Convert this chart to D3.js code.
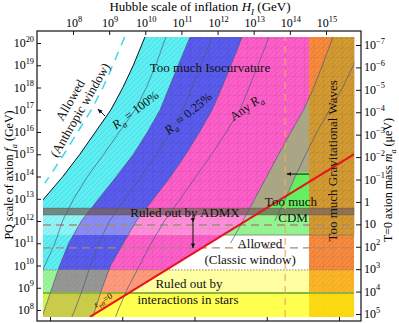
<!DOCTYPE html>
<html>
<head>
<meta charset="utf-8">
<script src="https://cdn.jsdelivr.net/npm/d3@7"></script>
<style>
  body { margin: 0; background: #fff; }
  svg { display: block; font-family: "Liberation Serif", "DejaVu Serif", serif; }
</style>
</head>
<body>
<svg id="chart" width="399" height="323"></svg>
<script>
// all values are log10: [log H_I (GeV), log f_a (GeV)]
const hTicks = [8, 9, 10, 11, 12, 13, 14, 15];
const faTicks = [8, 9, 10, 11, 12, 13, 14, 15, 16, 17, 18, 19, 20];
const maTicks = [-7, -6, -5, -4, -3, -2, -1, 0, 1, 2, 3, 4, 5];
const eTicks = [13, 14, 15, 16, 17]; // bottom axis, no labels

const hMin = 7.17, hMax = 15.78, fMin = 7.69, fMax = 20.27;

// isocurvature boundaries
const anthropicEdge = [[9.99, 20.27], [9.67, 19], [9.38, 18], [9.05, 17], [8.62, 16], [8.19, 15], [7.72, 14], [7.17, 12.95]];
const anthropicDash = [[9.43, 20.27], [9.10, 19], [8.83, 18], [8.51, 17], [8.13, 16], [7.75, 15], [7.35, 14], [7.22, 13.71]];
const ra100Line = [[10.57, 20.27], [10.29, 19], [10.03, 18], [9.72, 17], [9.28, 16], [8.85, 15], [8.40, 14], [8.02, 13], [7.71, 12], [7.50, 11], [7.22, 10], [7.17, 9.8]];
const blueEdge = [[11.24, 20.27], [10.91, 19], [10.66, 18], [10.41, 17], [10.06, 16], [9.67, 15], [9.20, 14], [8.71, 13], [8.23, 12], [7.88, 11], [7.63, 10], [7.42, 9], [7.21, 8], [7.14, 7.69]];
const ra025Line = [[11.85, 20.27], [11.54, 19], [11.29, 18], [11.04, 17], [10.70, 16], [10.32, 15], [9.88, 14], [9.44, 13], [9.01, 12], [8.71, 11], [8.48, 10], [8.28, 9], [8.05, 8], [7.97, 7.69]];
const pinkEdge = [[12.68, 20.27], [12.37, 19], [12.12, 18], [11.85, 17], [11.50, 16], [11.12, 15], [10.70, 14], [10.23, 13], [9.75, 12], [9.39, 11], [9.04, 10], [8.81, 9], [8.61, 8], [8.55, 7.69]];
const anyRaLine = [[13.42, 20.27], [13.12, 19], [12.87, 18], [12.62, 17], [12.24, 16], [11.84, 15], [11.40, 14], [10.97, 13], [10.53, 12], [10.16, 11], [9.84, 10], [9.52, 9], [9.25, 8], [9.18, 7.69]];
const cdmEdge = [[15.19, 20.27], [14.90, 19], [14.66, 18], [14.38, 17], [14.03, 16], [13.69, 15], [13.36, 14], [13.03, 13], [12.70, 12], [12.36, 11]];
const cdmLine = [[15.94, 20.27], [15.76, 19], [15.46, 18], [15.10, 17], [14.75, 16], [14.44, 15], [14.15, 14], [13.88, 13], [13.58, 12]];

// f_a = H_I / 2pi
const redLine = [[8.47, 7.69], [15.78, 15.01]];

const gwMin = 14.53;            // too much gravitational waves
const admxBand = [12.27, 12.58];
const cdmLow = 11.37, greenTop = 14.20;
const classicDash = [11.82, 10.79];
const starsTop = 9.80, starsMid = 8.76;
const dashH = 13.87;            // vertical dashed line

const labels = [
  { parts: [["Too much Isocurvature"]], at: [11.79, 18.92], rot: 0, fs: 13 },
  { parts: [["Allowed"]], at: [7.92, 17.44], rot: -60, fs: 13 },
  { parts: [["(Anthropic window)"]], at: [8.19, 16.99], rot: -60, fs: 13 },
  { parts: [["R", "i"], ["a", "is"], [" = 100%"]], at: [9.72, 16.99], rot: -37, fs: 12.5 },
  { parts: [["R", "i"], ["a", "is"], [" ≈ 0.25%"]], at: [11.18, 16.85], rot: -40, fs: 12.5 },
  { parts: [["Any "], ["R", "i"], ["a", "is"]], at: [12.79, 17.12], rot: -35, fs: 12.5 },
  { parts: [["Ruled out by ADMX"]], at: [11.10, 12.40], rot: 0, fs: 13 },
  { parts: [["Too much"]], at: [14.03, 12.90], rot: 0, fs: 13 },
  { parts: [["CDM"]], at: [14.09, 12.18], rot: 0, fs: 13 },
  { parts: [["Allowed"]], at: [13.17, 11.01], rot: 0, fs: 13 },
  { parts: [["(Classic window)"]], at: [12.90, 10.29], rot: 0, fs: 13 },
  { parts: [["Ruled out by"]], at: [11.21, 9.21], rot: 0, fs: 13 },
  { parts: [["interactions in stars"]], at: [11.18, 8.49], rot: 0, fs: 13 },
  { parts: [["Too much Gravitational Waves"]], at: [15.17, 14.70], rot: -90, fs: 13 },
  { parts: [["ε", "i"], ["eff", "s"], ["=0"]], at: [8.83, 8.45], rot: -31, fs: 9 }
];

const svg = d3.select("#chart");
const x = d3.scaleLog().domain([1e8, 1e15]).range([73, 326]);
const y = d3.scaleLog().domain([1e8, 1e20]).range([310, 43]);
const yMass = d3.scaleLog().domain([1e-7, 1e5]).range([45, 314]);
const xEnergy = d3.scaleLog().domain([1e13, 1e17]).range([50, 339]);

const px = d => x(Math.pow(10, d[0]));
const py = d => y(Math.pow(10, d[1]));
const line = d3.line().x(px).y(py);
const area = pts => line(pts) + "Z";
const rightOf = c => c.concat([[hMin - 0.3, fMin - 0.3], [hMax + 0.3, fMin - 0.3], [hMax + 0.3, fMax + 0.3]]);
const box = (h0, h1, f0, f1) => [[h0, f0], [h1, f0], [h1, f1], [h0, f1]];

// write text with italic / sub / sup parts
function rich(text, parts, fs) {
  let shift = 0;
  parts.forEach(([s, st = ""]) => {
    const sub = st.includes("s"), sup = st.includes("u");
    const target = sub ? 0.3 * fs : sup ? -0.45 * fs : 0;
    const ts = text.append("tspan").text(s).attr("dy", target - shift);
    shift = target;
    if (sub || sup) ts.attr("font-size", fs * 0.7);
    if (st.includes("i")) ts.attr("font-style", "italic");
  });
}

const defs = svg.append("defs");
const clip = (id, pts) => defs.append("clipPath").attr("id", id).append("path").attr("d", area(pts));
clip("plot", box(hMin, hMax, fMin, fMax));
clip("aboveRed", [[hMin, fMax], [hMax, fMax], redLine[1], redLine[0], [hMin, fMin]]);
clip("cdm", box(hMin - 1, hMax + 1, cdmLow, fMax + 1));
clip("gw", box(gwMin, hMax, fMin, fMax));
clip("greenBox", box(hMin, gwMin, cdmLow, greenTop));

defs.append("pattern").attr("id", "hatch").attr("patternUnits", "userSpaceOnUse")
  .attr("width", 5).attr("height", 5)
  .append("path").attr("d", "M0,5L5,0M-1,1L1,-1M4,6L6,4")
  .attr("stroke", "rgba(0,0,0,0.13)").attr("stroke-width", 0.7);
defs.append("pattern").attr("id", "grid").attr("patternUnits", "userSpaceOnUse")
  .attr("width", 9.5).attr("height", 9.5)
  .append("path").attr("d", "M0,0H9.5M0,0V9.5")
  .attr("fill", "none").attr("stroke", "rgba(0,0,0,0.12)").attr("stroke-width", 0.8);

const arrow = defs.append("marker").attr("id", "ah").attr("viewBox", "0 0 10 10")
  .attr("refX", 9).attr("refY", 5).attr("markerWidth", 5).attr("markerHeight", 5)
  .attr("orient", "auto");
arrow.append("path").attr("d", "M0,1L10,5L0,9z").attr("fill", "#111");

const plot = svg.append("g").attr("clip-path", "url(#plot)");

// isocurvature regions
const iso = plot.append("g").attr("clip-path", "url(#aboveRed)");
iso.append("path").attr("d", area(rightOf(anthropicEdge))).attr("fill", "#5cf0f4");
iso.append("path").attr("d", area(rightOf(blueEdge))).attr("fill", "#5a5cf0");
iso.append("path").attr("d", area(rightOf(pinkEdge))).attr("fill", "#ff5fca");
iso.append("path").attr("d", area(rightOf(anthropicEdge))).attr("fill", "url(#hatch)");
iso.append("path").attr("d", area(rightOf(blueEdge))).attr("fill", "url(#grid)");

// too much CDM
plot.append("path").attr("clip-path", "url(#cdm)")
  .attr("d", area(rightOf(cdmEdge))).attr("fill", "#a9a585");
const green = plot.append("g").attr("clip-path", "url(#greenBox)");
green.append("path").attr("d", area(rightOf(cdmLine))).attr("fill", "#66ee62");
green.append("path").attr("d", area([redLine[0], redLine[1], [hMax + 1, fMin - 1]])).attr("fill", "#66ee62");
green.append("rect").attr("x", px([hMin])).attr("width", px([gwMin]) - px([hMin]))
  .attr("y", py([0, admxBand[0]])).attr("height", py([0, cdmLow]) - py([0, admxBand[0]]))
  .attr("fill", "rgba(255,255,255,0.3)");

// gravitational waves band
const gw = plot.append("g").attr("clip-path", "url(#gw)");
gw.append("path").attr("d", area(box(gwMin, hMax, fMin, fMax))).attr("fill", "#fa8b3e");
gw.append("path").attr("clip-path", "url(#cdm)").attr("d", area(rightOf(cdmEdge))).attr("fill", "#d49b33");
gw.append("path").attr("d", area(box(gwMin, hMax, fMin, fMax))).attr("fill", "url(#hatch)");
gw.append("path").attr("d", area(box(gwMin, hMax, fMin, fMax))).attr("fill", "url(#grid)");

// stars
plot.append("path").attr("d", area(box(hMin, hMax, fMin, starsTop))).attr("fill", "rgba(255,255,0,0.37)");
plot.append("path").attr("d", area(box(hMin, hMax, fMin, starsMid))).attr("fill", "rgba(255,255,0,0.5)");

// ADMX
plot.append("path").attr("d", area(box(hMin, hMax, admxBand[0], admxBand[1])))
  .attr("fill", "rgba(120,100,92,0.72)").attr("stroke", "rgba(90,70,70,0.6)").attr("stroke-width", 0.6);

// horizontal reference lines
classicDash.forEach(f => {
  plot.append("path").attr("d", line([[hMin, f], [hMax, f]]))
    .attr("stroke", "#a58a7a").attr("stroke-width", 1.3).attr("stroke-dasharray", "8,5").attr("fill", "none");
});
plot.append("path").attr("d", line([[12.17, cdmLow], [hMax, cdmLow]]))
  .attr("stroke", "#807a6a").attr("stroke-width", 0.8).attr("fill", "none");
plot.append("path").attr("d", line([[hMin, starsTop], [hMax, starsTop]]))
  .attr("stroke", "#9a8060").attr("stroke-width", 1).attr("stroke-dasharray", "1.5,1.5").attr("fill", "none");
plot.append("path").attr("d", line([[hMin, starsMid], [hMax, starsMid]]))
  .attr("stroke", "#8db43a").attr("stroke-width", 2).attr("fill", "none");
plot.append("path").attr("d", line([[dashH, fMin], [dashH, fMax]]))
  .attr("stroke", "#f4a860").attr("stroke-width", 1.2).attr("stroke-dasharray", "7,5").attr("fill", "none");

// curves
plot.append("path").attr("d", line(anthropicDash))
  .attr("stroke", "#3cd8ea").attr("stroke-width", 1.5).attr("stroke-dasharray", "9,7").attr("fill", "none");
[ra100Line, blueEdge, ra025Line, pinkEdge, anyRaLine, cdmEdge, cdmLine].forEach(c => {
  plot.append("path").attr("d", line(c)).attr("stroke", "#505a78").attr("stroke-width", 0.7).attr("fill", "none");
});
plot.append("path").attr("d", line(anthropicEdge)).attr("stroke", "#111").attr("stroke-width", 1).attr("fill", "none");
plot.append("path").attr("d", line(redLine)).attr("stroke", "#e4141c").attr("stroke-width", 2).attr("fill", "none");

// arrows
const arrows = [
  [[8.885, 16.72], [8.69, 17.03]],
  [[11.32, admxBand[0]], [11.32, 11.95]],
  [[11.32, 11.95], [11.32, classicDash[1]]],
  [[gwMin, 14.11], [13.92, 14.11]]
];
arrows.forEach(a => {
  svg.append("path").attr("d", line(a)).attr("stroke", "#111").attr("stroke-width", 1)
    .attr("fill", "none").attr("marker-end", "url(#ah)");
});

// region labels
labels.forEach(l => {
  const t = svg.append("text")
    .attr("transform", `translate(${px(l.at)},${py(l.at)}) rotate(${l.rot})`)
    .attr("y", l.fs * 0.35).attr("text-anchor", "middle")
    .attr("font-size", l.fs).attr("fill", "#111");
  rich(t, l.parts, l.fs);
});

// frame and axes
svg.append("rect").attr("x", 37).attr("y", 31).attr("width", 324).attr("height", 290)
  .attr("fill", "none").attr("stroke", "#111").attr("stroke-width", 1.2);

const tickAxis = (axis, tr) => {
  const g = svg.append("g").attr("transform", tr).call(axis.tickFormat("").tickSizeOuter(0));
  g.select(".domain").remove();
  g.selectAll("line").attr("stroke", "#111");
};
tickAxis(d3.axisTop(x).tickValues(hTicks.map(v => Math.pow(10, v))).tickSizeInner(-4), "translate(0,31)");
tickAxis(d3.axisLeft(y).tickValues(faTicks.map(v => Math.pow(10, v))).tickSizeInner(-4), "translate(37,0)");
tickAxis(d3.axisRight(yMass).tickValues(maTicks.map(v => Math.pow(10, v))).tickSizeInner(-5), "translate(361,0)");
tickAxis(d3.axisBottom(xEnergy).tickValues(eTicks.map(v => Math.pow(10, v))).tickSizeInner(-4), "translate(0,321)");

const powLabel = (t, e, fs) => {
  if (e === 0) { t.text("1"); return; }
  if (e === 1) { t.text("10"); return; }
  rich(t, [["10"], [String(e).replace("-", "−"), "u"]], fs);
};
hTicks.forEach(e => {
  powLabel(svg.append("text").attr("x", x(Math.pow(10, e)) + 1).attr("y", 27)
    .attr("text-anchor", "middle").attr("font-size", 12), e, 12);
});
faTicks.forEach(e => {
  powLabel(svg.append("text").attr("x", 34).attr("y", y(Math.pow(10, e)) + 4)
    .attr("text-anchor", "end").attr("font-size", 12), e, 12);
});
maTicks.forEach(e => {
  powLabel(svg.append("text").attr("x", 364).attr("y", yMass(Math.pow(10, e)) + 4)
    .attr("text-anchor", "start").attr("font-size", 12), e, 12);
});

// axis titles
rich(svg.append("text").attr("x", 200).attr("y", 11).attr("text-anchor", "middle").attr("font-size", 13),
  [["Hubble scale of inflation "], ["H", "i"], ["I", "is"], [" (GeV)"]], 13);
rich(svg.append("text").attr("transform", "translate(13,175) rotate(-90)").attr("text-anchor", "middle").attr("font-size", 12),
  [["PQ scale of axion "], ["f", "i"], ["a", "is"], [" (GeV)"]], 12);
rich(svg.append("text").attr("transform", "translate(392,180) rotate(-90)").attr("text-anchor", "middle").attr("font-size", 12),
  [["T=0 axion mass "], ["m", "i"], ["a", "is"], [" (μeV)"]], 12);
</script>
</body>
</html>
